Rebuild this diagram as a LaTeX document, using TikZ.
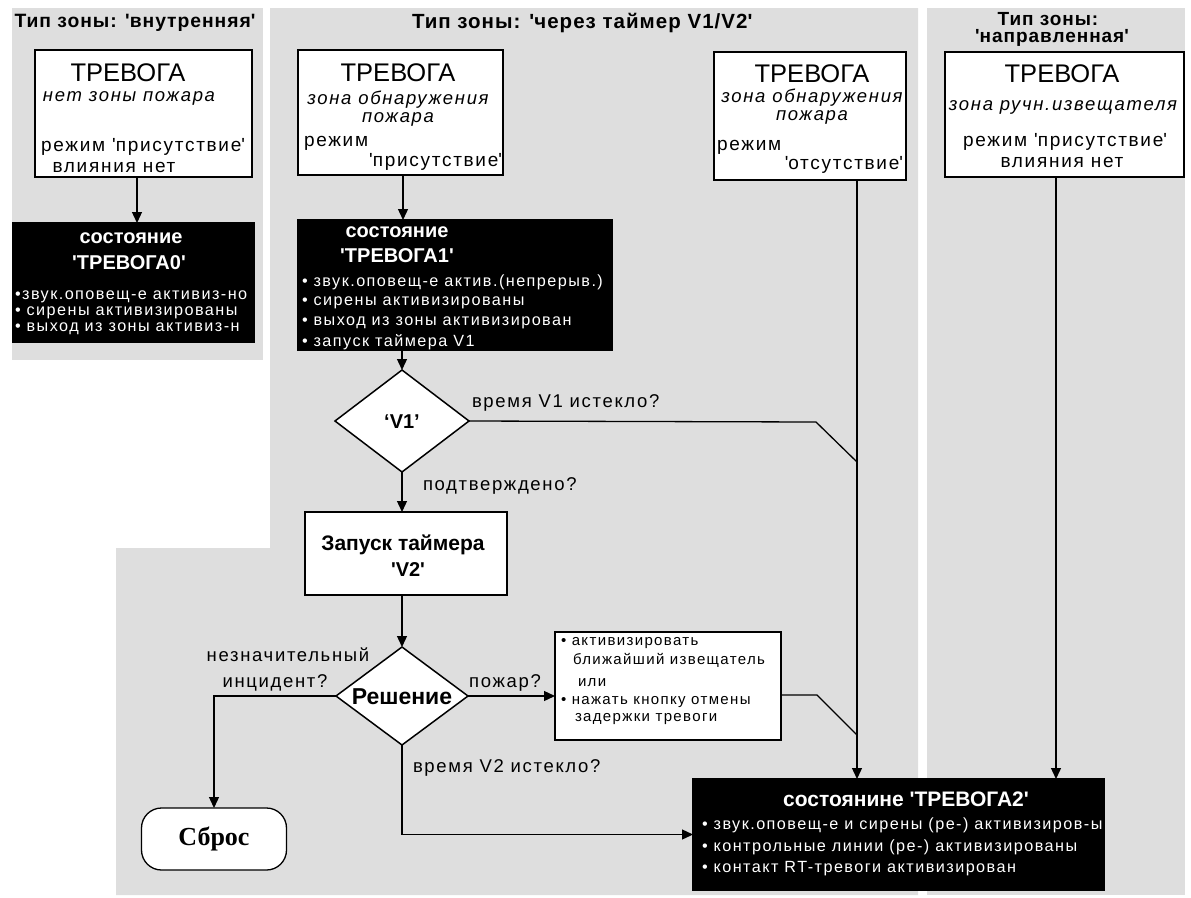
\documentclass[tikz,border=0pt]{standalone}
\usepackage{fontspec}
\setmainfont{Liberation Sans}
\newfontfamily\wf[LetterSpace=9]{Liberation Sans}
\newfontfamily\tf[LetterSpace=5]{Liberation Sans}
\newfontfamily\sbf{Liberation Serif}
\usetikzlibrary{shapes.geometric,arrows.meta}
\definecolor{panelgray}{RGB}{222,222,222}
\newcommand\sq{\textquotesingle}
\newcommand\fttl{\tf\bfseries\fontsize{20.5}{16.5}\selectfont}
\newcommand\ftrv{\fontsize{25.5}{28}\selectfont}
\newcommand\fbd{\wf\fontsize{19}{22}\selectfont}
\newcommand\fit{\wf\itshape\fontsize{18.5}{20}\selectfont}
\newcommand\fbl{\wf\fontsize{16.2}{18}\selectfont}
\newcommand\fhd{\bfseries\fontsize{20}{22}\selectfont}
\newcommand\flb{\wf\fontsize{18.5}{20}\selectfont}
\newcommand\fsm{\wf\fontsize{15}{17}\selectfont}
\begin{document}
\begin{tikzpicture}[x=1pt,y=-1pt,
  wbox/.style={draw=black, line width=1.3pt, fill=white, anchor=north west, inner sep=0pt, outer sep=0pt},
  bbox/.style={draw=black, line width=1.3pt, fill=black, anchor=north west, inner sep=0pt, outer sep=0pt},
  dia/.style={diamond, draw=black, line width=1.5pt, fill=white, inner sep=0pt, outer sep=0pt},
  tx/.style={inner sep=0pt, outer sep=0pt},
  wt/.style={tx, text=white},
  conn/.style={line width=1.3pt},
  arr/.style={conn, -{Triangle[length=11pt,width=10pt]}}]
\useasboundingbox (0,0) rectangle (1191,897);
% zone panels
\fill[panelgray] (12,8) rectangle (263,360);
\fill[panelgray] (270,8) -- (918,8) -- (918,895) -- (116,895) -- (116,548) -- (270,548) -- cycle;
\fill[panelgray] (927,8) rectangle (1185,895);
% titles
\node[tx] (t1) at (135,23) {\tf\bfseries\fontsize{19.3}{20}\selectfont Тип зоны: \sq внутренняя\sq};
\node[tx, anchor=west] (t2) at (412,23) {\fttl Тип зоны: \sq через таймер V1/V2\sq};
\node[tx] (t3a) at (1048,19) {\tf\bfseries\fontsize{19}{20}\selectfont Тип зоны:};
\node[tx] (t3b) at (1052,38) {\tf\bfseries\fontsize{19}{20}\selectfont \sq направленная\sq};
% ---- zone 1
\node[wbox, minimum width=217pt, minimum height=127pt] (box1) at (35,50) {};
\node[tx] (b1a) at (128,73) {\ftrv ТРЕВОГА};
\node[tx] (b1b) at (129,98) {\fit нет зоны пожара};
\node[tx] (b1c) at (143,147) {\fbd режим \sq присутствие\sq};
\node[tx] (b1d) at (114,167) {\fbd влияния нет};
\node[bbox, minimum width=241pt, minimum height=119pt] (blk0) at (13,223) {};
\node[wt] (k0a) at (131,238) {\fhd состояние};
\node[wt] (k0b) at (129,263) {\fhd \sq ТРЕВОГА0\sq};
\node[wt, anchor=west] (k0c) at (15,297) {\fbl •звук.оповещ-е активиз-но};
\node[wt, anchor=west] (k0d) at (15,313) {\fbl • сирены активизированы};
\node[wt, anchor=west] (k0e) at (15,329) {\fbl • выход из зоны активиз-н};
\coordinate (x0) at (137,0);
\draw[arr] (box1.south -| x0) -- (blk0.north -| x0);
% ---- zone 2
\node[wbox, minimum width=205pt, minimum height=125pt] (box2) at (298,50) {};
\node[tx] (b2a) at (398,73) {\ftrv ТРЕВОГА};
\node[tx] (b2b) at (398,100) {\fit зона обнаружения};
\node[tx] (b2c) at (398,119) {\fit пожара};
\node[tx, anchor=west] (b2d) at (304,143) {\fbd режим};
\node[tx, anchor=east] (b2e) at (502,162) {\fbd \sq присутствие\sq};
\node[bbox, minimum width=314pt, minimum height=130pt] (blk1) at (298,220) {};
\node[wt] (k1a) at (397,232) {\fhd состояние};
\node[wt] (k1b) at (397,256) {\fhd \sq ТРЕВОГА1\sq};
\node[wt, anchor=west] (k1c) at (302,282) {\fbl • звук.оповещ-е актив.(непрерыв.)};
\node[wt, anchor=west] (k1d) at (302,303) {\fbl • сирены активизированы};
\node[wt, anchor=west] (k1e) at (302,323) {\fbl • выход из зоны активизирован};
\node[wt, anchor=west] (k1f) at (302,342) {\fbl • запуск таймера V1};
\coordinate (x1) at (403,0);
\draw[arr] (box2.south -| x1) -- (blk1.north -| x1);
\node[dia, minimum width=134pt, minimum height=102pt] (v1) at (402,421) {};
\node[tx] (v1t) at (402,422) {\bfseries\fontsize{20}{22}\selectfont ‘V1’};
\draw[arr] (blk1.south -| v1.north) -- (v1.north);
\node[tx, anchor=west] (l1) at (472,403) {\flb время V1 истекло?};
\node[tx, anchor=west] (l2) at (423,486) {\flb подтверждено?};
\node[wbox, minimum width=202pt, minimum height=83pt] (v2) at (305,512) {};
\node[tx] (v2a) at (403,545) {\bfseries\fontsize{21}{23}\selectfont Запуск таймера};
\node[tx] (v2b) at (408,570) {\bfseries\fontsize{20}{22}\selectfont \sq V2\sq};
\draw[arr] (v1.south) -- (v1.south |- v2.north);
\node[dia, minimum width=132pt, minimum height=98pt] (dec) at (402,696) {};
\node[tx] (dect) at (402,697) {\bfseries\fontsize{23}{25}\selectfont Решение};
\draw[arr] (v2.south -| dec.north) -- (dec.north);
\node[tx] (l3) at (288,655) {\flb незначительный};
\node[tx] (l4) at (275,683) {\flb инцидент?};
\node[tx] (l5) at (505,683) {\flb пожар?};
\node[tx, anchor=west] (l6) at (413,768) {\flb время V2 истекло?};
\node[draw=black, line width=1.3pt, fill=white, rounded corners=20pt, minimum width=145pt, minimum height=62pt, inner sep=0pt, outer sep=0pt] (reset) at (214,839) {\sbf\bfseries\fontsize{26}{28}\selectfont Сброс};
\draw[arr] (dec.west) -| (reset.north);
\node[wbox, minimum width=226pt, minimum height=108pt] (act) at (555,632) {};
\node[tx, anchor=west] (a1) at (561,643) {\fsm • активизировать};
\node[tx, anchor=west] (a2) at (573,660) {\fsm ближайший извещатель};
\node[tx, anchor=west] (a3) at (578,683) {\fsm или};
\node[tx, anchor=west] (a4) at (561,702) {\fsm • нажать кнопку отмены};
\node[tx, anchor=west] (a5) at (575,719) {\fsm задержки тревоги};
\draw[arr] (dec.east) -- (dec.east -| act.west);
\node[wbox, minimum width=192pt, minimum height=128pt] (box3) at (714,52) {};
\node[tx] (b3a) at (812,74) {\ftrv ТРЕВОГА};
\node[tx] (b3b) at (812,98) {\fit зона обнаружения};
\node[tx] (b3c) at (812,117) {\fit пожара};
\node[tx, anchor=west] (b3d) at (717,147) {\fbd режим};
\node[tx, anchor=east] (b3e) at (903,165) {\fbd \sq отсутствие\sq};
\node[bbox, minimum width=411pt, minimum height=111pt] (blk2) at (693,779) {};
\node[wt] (k2a) at (906,799) {\bfseries\fontsize{21}{23}\selectfont состоянине \sq ТРЕВОГА2\sq};
\node[wt, anchor=west] (k2b) at (702,825) {\fbl • звук.оповещ-е и сирены (ре-) активизиров-ы};
\node[wt, anchor=west] (k2c) at (702,847) {\fbl • контрольные линии (ре-) активизированы};
\node[wt, anchor=west] (k2d) at (702,869) {\fbl • контакт RT-тревоги активизирован};
\coordinate (x2) at (857,0);
\coordinate (k1) at (816,422);
\coordinate (j1) at (857,462);
\coordinate (k2) at (817,695);
\coordinate (j2) at (857,735);
\draw[arr] (box3.south -| x2) -- (blk2.north -| x2);
\draw[conn] (v1.east) -- (k1) -- (j1);
\draw[conn] (act.east |- k2) -- (k2) -- (j2);
\draw[arr] (dec.south) |- (blk2.west);
% ---- zone 3
\node[wbox, minimum width=239pt, minimum height=125pt] (box4) at (945,52) {};
\node[tx] (b4a) at (1062,74) {\ftrv ТРЕВОГА};
\node[tx] (b4b) at (1063,107) {\fit зона ручн.извещателя};
\node[tx] (b4c) at (1065,142) {\fbd режим \sq присутствие\sq};
\node[tx] (b4d) at (1062,162) {\fbd влияния нет};
\coordinate (x3) at (1056,0);
\draw[arr] (box4.south -| x3) -- (blk2.north -| x3);
\end{tikzpicture}
\end{document}
